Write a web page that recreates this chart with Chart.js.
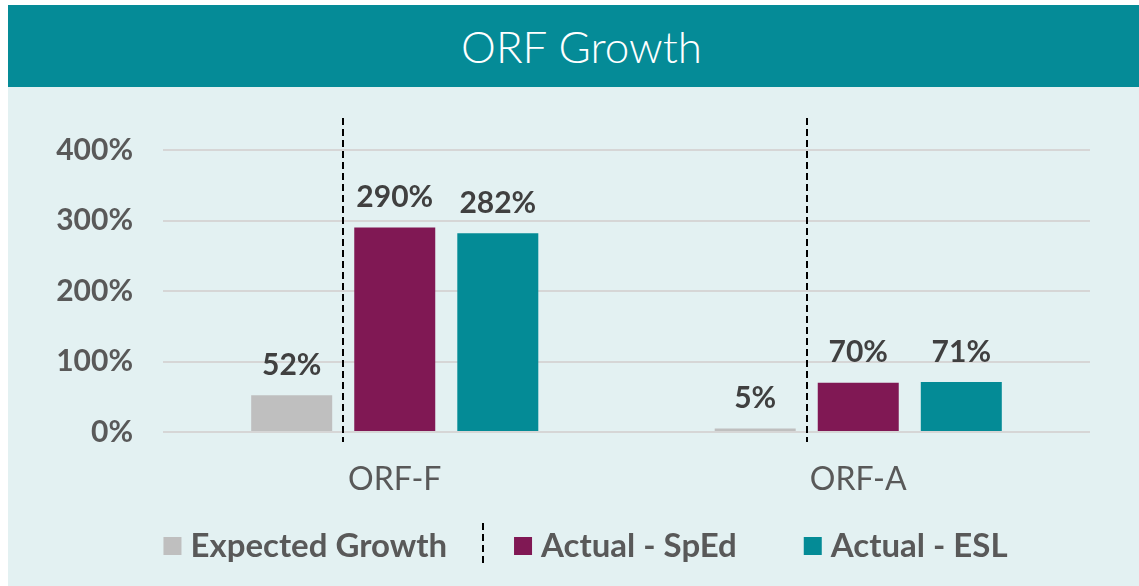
<!DOCTYPE html>
<html>
<head>
<meta charset="utf-8">
<script src="https://cdn.jsdelivr.net/npm/chart.js@4"></script>
<style>
  html, body { margin: 0; padding: 0; background: #ffffff; }
  #wrap { position: absolute; left: 8px; top: 5px; width: 1131px; height: 581px; background: #E3F1F2; }
  #title { height: 82px; line-height: 82px; background: #058B97; color: #ffffff; text-align: center;
           padding-left: 16px; box-sizing: border-box;
           font-family: Lato, "Open Sans", sans-serif; font-weight: 300; font-size: 44px; }
  #box { position: relative; width: 1131px; height: 499px; }
</style>
</head>
<body>
<div id="wrap">
  <div id="title">ORF Growth</div>
  <div id="box"><canvas id="chart"></canvas></div>
</div>
<script>
const categories = ['ORF-F', 'ORF-A'];
const seriesNames = ['Expected Growth', 'Actual - SpEd', 'Actual - ESL'];
const expectedGrowth = [52, 5];
const actualSpEd = [290, 70];
const actualESL = [282, 71];
const yTicks = [0, 100, 200, 300, 400];

const colors = ['#BFBFBF', '#801854', '#048B96'];
const fontFamily = 'Lato, "Open Sans", sans-serif';

// value labels above each bar
const valueLabels = {
    id: 'valueLabels',
    afterDatasetsDraw(chart) {
        const ctx = chart.ctx;
        ctx.save();
        ctx.font = 'bold 30px ' + fontFamily;
        ctx.fillStyle = '#404040';
        ctx.textAlign = 'center';
        ctx.textBaseline = 'middle';
        chart.data.datasets.forEach((ds, i) => {
            chart.getDatasetMeta(i).data.forEach((bar, j) => {
                ctx.fillText(ds.data[j] + '%', bar.x, bar.y - 30);
            });
        });
        ctx.restore();
    }
};

// dashed dividers between the expected bar and the actual bars
const dividers = {
    id: 'dividers',
    afterDraw(chart) {
        const ctx = chart.ctx;
        const area = chart.chartArea;
        const exp = chart.getDatasetMeta(0).data;
        const sped = chart.getDatasetMeta(1).data;
        ctx.save();
        ctx.strokeStyle = '#000000';
        ctx.lineWidth = 2;
        ctx.setLineDash([7, 4]);
        exp.forEach((bar, j) => {
            const x = Math.round(((bar.x + bar.width / 2) + (sped[j].x - sped[j].width / 2)) / 2);
            ctx.beginPath();
            ctx.moveTo(x, area.top - 32);
            ctx.lineTo(x, area.bottom + 10);
            ctx.stroke();
        });
        ctx.restore();
    }
};

// legend row at the bottom, with a dashed separator after the first entry
const bottomLegend = {
    id: 'bottomLegend',
    afterDraw(chart) {
        const ctx = chart.ctx;
        const box = 18, gap = 9, spacing = 67;
        const cy = chart.height - 41;
        ctx.save();
        ctx.font = 'bold 33px ' + fontFamily;
        ctx.textBaseline = 'middle';
        const widths = chart.data.datasets.map(ds => box + gap + ctx.measureText(ds.label).width);
        const total = widths.reduce((a, b) => a + b, 0) + spacing * (widths.length - 1);
        let x = chart.width / 2 + 12 - total / 2;
        chart.data.datasets.forEach((ds, i) => {
            ctx.fillStyle = ds.backgroundColor;
            ctx.fillRect(x, cy - box / 2 + 1, box, box);
            ctx.fillStyle = '#595959';
            ctx.fillText(ds.label, x + box + gap, cy + 1);
            x += widths[i];
            if (i === 0) {
                const sx = Math.round(x + spacing / 2) + 2;
                ctx.strokeStyle = '#000000';
                ctx.lineWidth = 2;
                ctx.setLineDash([7, 4]);
                ctx.beginPath();
                ctx.moveTo(sx, cy - 22);
                ctx.lineTo(sx, cy + 22);
                ctx.stroke();
                ctx.setLineDash([]);
            }
            x += spacing;
        });
        ctx.restore();
    }
};

new Chart(document.getElementById('chart'), {
    type: 'bar',
    data: {
        labels: categories,
        datasets: [
            { label: seriesNames[0], data: expectedGrowth, backgroundColor: colors[0] },
            { label: seriesNames[1], data: actualSpEd, backgroundColor: colors[1] },
            { label: seriesNames[2], data: actualESL, backgroundColor: colors[2] }
        ]
    },
    options: {
        responsive: true,
        maintainAspectRatio: false,
        animation: false,
        categoryPercentage: 0.667,
        barPercentage: 0.786,
        layout: { padding: { top: 63, left: 0, right: 49, bottom: 0 } },
        plugins: {
            title: { display: false },
            tooltip: { enabled: false },
            legend: { display: false }
        },
        scales: {
            x: {
                grid: { display: false },
                border: { display: false },
                ticks: { color: '#595959', padding: 20, font: { family: fontFamily, size: 32 } },
                afterFit: s => { s.height = 154; }
            },
            y: {
                min: yTicks[0],
                max: yTicks[yTicks.length - 1],
                afterBuildTicks: s => { s.ticks = yTicks.map(v => ({ value: v })); },
                afterFit: s => { s.width = 155; },
                grid: { color: '#D6D6D6', lineWidth: 2, drawTicks: false },
                border: { display: false },
                ticks: {
                    padding: 30,
                    color: '#595959',
                    font: { family: fontFamily, size: 30, weight: 'bold' },
                    callback: v => v + '%'
                }
            }
        }
    },
    plugins: [valueLabels, dividers, bottomLegend]
});
</script>
</body>
</html>
